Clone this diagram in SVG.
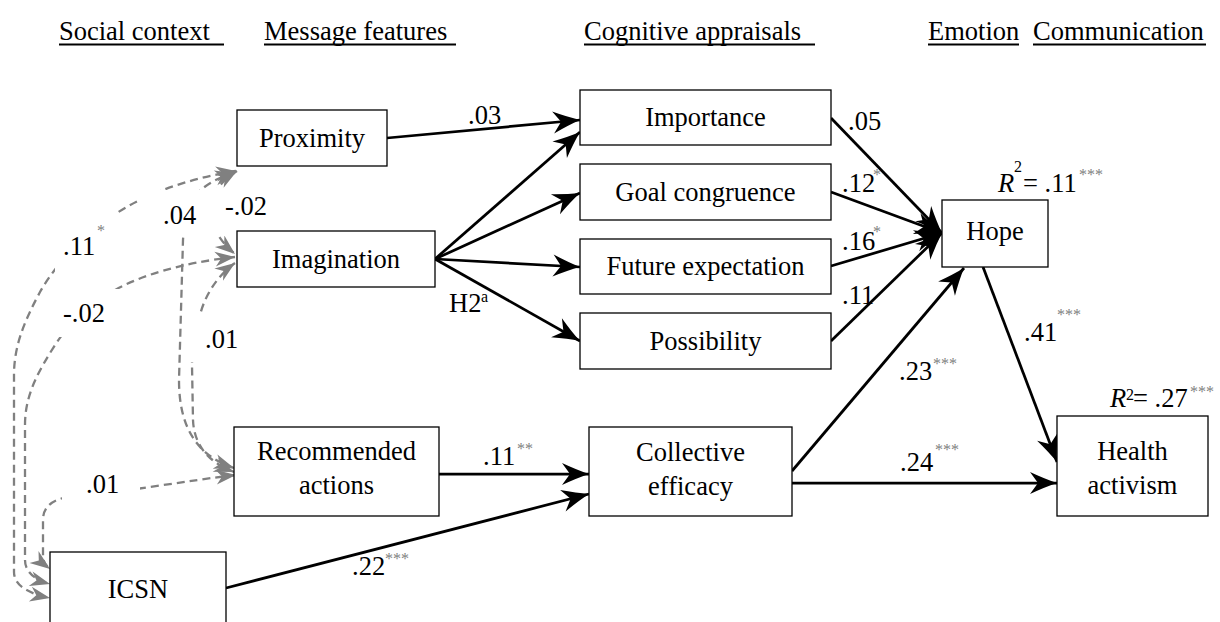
<svg xmlns="http://www.w3.org/2000/svg" width="1220" height="622" viewBox="0 0 1220 622">
<style>
.box{fill:#fff;stroke:#000;stroke-width:1.3}
.t{font-family:"Liberation Serif","Times New Roman",serif;font-size:26.5px;fill:#000}
.c{text-anchor:middle}
.sup{font-family:"Liberation Serif","Times New Roman",serif;font-size:16px;fill:#808080}
.sup2{font-family:"Liberation Serif","Times New Roman",serif;font-size:16px;fill:#000}
.arr{stroke:#000;stroke-width:2.75;fill:none;marker-end:url(#ah)}
.cor{stroke:#808080;stroke-width:2.3;fill:none;stroke-dasharray:8 5;marker-start:url(#gh);marker-end:url(#gh)}
.mask{fill:#fff}
.ul{stroke:#000;stroke-width:2}
</style>
<defs>
<marker id="ah" viewBox="-28 -12 30 24" refX="0" refY="0" markerWidth="30" markerHeight="24" markerUnits="userSpaceOnUse" orient="auto">
<path d="M0,0 Q-12,-4 -27,-11 L-19,0 L-27,11 Q-12,4 0,0Z" fill="#000"/>
</marker>
<marker id="gh" viewBox="-22 -9 24 18" refX="0" refY="0" markerWidth="24" markerHeight="18" markerUnits="userSpaceOnUse" orient="auto-start-reverse">
<path d="M0,0 L-20,-7.5 L-14,0 L-20,7.5Z" fill="#808080"/>
</marker>
</defs>

<g id="headers">
<text class="t" x="59" y="40">Social context</text>
<text class="t" x="264" y="40">Message features</text>
<text class="t" x="584" y="40">Cognitive appraisals</text>
<text class="t" x="928" y="40">Emotion</text>
<text class="t" x="1033" y="40">Communication</text>
<line class="ul" x1="59" y1="44.5" x2="224" y2="44.5"/>
<line class="ul" x1="264" y1="44.5" x2="456" y2="44.5"/>
<line class="ul" x1="584" y1="44.5" x2="815" y2="44.5"/>
<line class="ul" x1="928" y1="44.5" x2="1019" y2="44.5"/>
<line class="ul" x1="1033" y1="44.5" x2="1206" y2="44.5"/>
</g>

<g id="connectors">
<path class="cor" d="M236,171 C190,178 140,195 110,218 C80,240 55,265 40,292 C25,320 14,345 14,375 L14,572 C14,586 30,594 50,598"/>
<path class="cor" d="M235,257 C180,263 140,276 115,290 C90,304 70,322 55,345 C38,372 25,395 25,425 L25,560 C25,572 35,580 50,584"/>
<path class="cor" d="M236,475 C190,480 120,493 75,496 C55,498 43,505 43,520 L43,556 C43,562 46,566 50,569"/>
<path class="cor" d="M237,171 C205,190 200,225 235,254"/>
<path class="cor" d="M235,173 C215,178 200,188 192,200 C185,212 184,225 183,240 L179,380 C179,425 195,455 234,468"/>
<path class="cor" d="M235,263 C218,275 205,295 200,315 C196,335 192,350 192,365 L193,420 C194,445 208,462 234,472"/>

<path class="arr" d="M387,138 L580,120"/>
<path class="arr" d="M435,259 L580,132"/>
<path class="arr" d="M435,259 L580,193"/>
<path class="arr" d="M435,259 L580,267"/>
<path class="arr" d="M435,259 L580,341"/>
<path class="arr" d="M831,118 L942,233"/>
<path class="arr" d="M831,192 L942,233"/>
<path class="arr" d="M831,266 L942,233"/>
<path class="arr" d="M831,341 L942,233"/>
<path class="arr" d="M983,267 L1057,462"/>
<path class="arr" d="M792,471 L964,268"/>
<path class="arr" d="M792,483 L1057,483"/>
<path class="arr" d="M439,474 L589,474"/>
<path class="arr" d="M226,588 L589,494"/>
</g>

<g id="labels">
<rect class="mask" x="55" y="213" width="63" height="59"/>
<text class="t" x="63" y="255">.11</text><text class="sup" x="97" y="236">*</text>
<rect class="mask" x="58" y="289" width="62" height="48"/>
<text class="t" x="63" y="322">-.02</text>
<rect class="mask" x="141" y="190" width="62" height="47"/>
<text class="t" x="163" y="224">.04</text>
<rect class="mask" x="205" y="188" width="65" height="48"/>
<text class="t" x="225" y="215">-.02</text>
<rect class="mask" x="188" y="316" width="52" height="46"/>
<text class="t" x="205" y="348">.01</text>
<rect class="mask" x="62" y="472" width="78" height="33"/>
<text class="t" x="86" y="493">.01</text>

<text class="t" x="468" y="124">.03</text>
<text class="t" x="449" y="312">H2</text><text class="sup2" x="481" y="302">a</text>
<text class="t" x="848" y="130">.05</text>
<text class="t" x="842" y="192">.12</text><text class="sup" x="873" y="180">*</text>
<text class="t" x="842" y="250">.16</text><text class="sup" x="873" y="237">*</text>
<text class="t" x="842" y="304">.11</text>
<text class="t" x="998" y="192" font-style="italic">R</text><text class="sup2" x="1014" y="172">2</text>
<text class="t" x="1023" y="192">= .11</text><text class="sup" x="1079" y="180">***</text>
<text class="t" x="1110" y="407" font-style="italic">R</text><text class="sup2" x="1126" y="400">2</text>
<text class="t" x="1133" y="407">= .27</text><text class="sup" x="1190" y="397">***</text>
<text class="t" x="1024" y="341">.41</text><text class="sup" x="1057" y="320">***</text>
<text class="t" x="899" y="380">.23</text><text class="sup" x="933" y="369">***</text>
<text class="t" x="900" y="471">.24</text><text class="sup" x="935" y="455">***</text>
<text class="t" x="483" y="465">.11</text><text class="sup" x="517" y="454">**</text>
<text class="t" x="352" y="575">.22</text><text class="sup" x="385" y="564">***</text>
</g>

<g id="node-proximity"><rect class="box" x="237" y="110" width="150" height="56"/><text class="t c" x="312" y="147">Proximity</text></g>
<g id="node-imagination"><rect class="box" x="237" y="231" width="198" height="56"/><text class="t c" x="336" y="268">Imagination</text></g>
<g id="node-recommended"><rect class="box" x="234" y="427" width="205" height="89"/><text class="t c" x="336.5" y="460">Recommended</text><text class="t c" x="336.5" y="494">actions</text></g>
<g id="node-icsn"><rect class="box" x="50" y="552" width="176" height="100"/><text class="t c" x="138" y="598">ICSN</text></g>
<g id="node-importance"><rect class="box" x="580" y="90" width="251" height="55"/><text class="t c" x="705.5" y="126">Importance</text></g>
<g id="node-goal"><rect class="box" x="580" y="164" width="251" height="56"/><text class="t c" x="705.5" y="200.5">Goal congruence</text></g>
<g id="node-future"><rect class="box" x="580" y="239" width="251" height="55"/><text class="t c" x="705.5" y="275">Future expectation</text></g>
<g id="node-possibility"><rect class="box" x="580" y="313" width="251" height="56"/><text class="t c" x="705.5" y="349.5">Possibility</text></g>
<g id="node-collective"><rect class="box" x="589" y="427" width="203" height="89"/><text class="t c" x="690.5" y="461">Collective</text><text class="t c" x="690.5" y="495">efficacy</text></g>
<g id="node-hope"><rect class="box" x="942" y="200" width="106" height="67"/><text class="t c" x="995" y="240">Hope</text></g>
<g id="node-health"><rect class="box" x="1057" y="416" width="151" height="100"/><text class="t c" x="1132.5" y="460">Health</text><text class="t c" x="1132.5" y="494">activism</text></g>
</svg>
